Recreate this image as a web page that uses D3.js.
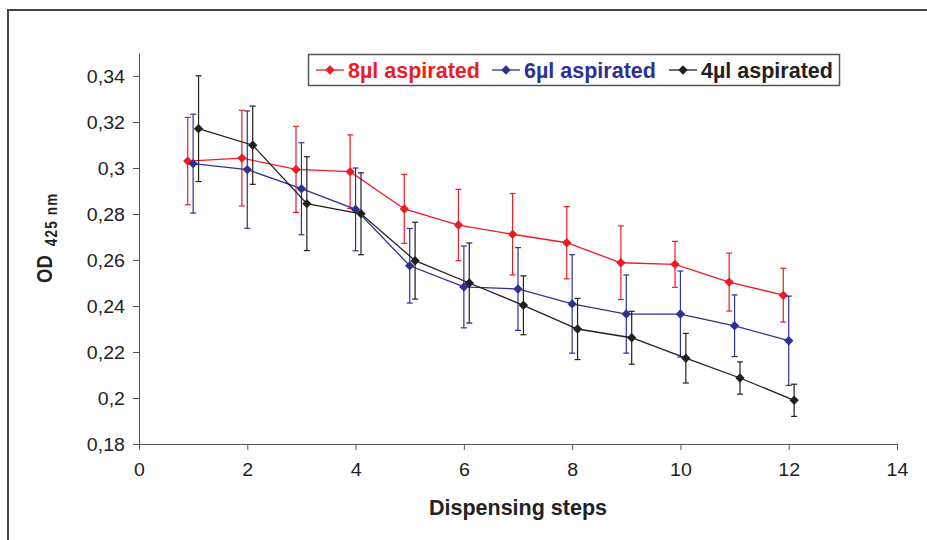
<!DOCTYPE html>
<html>
<head>
<meta charset="utf-8">
<script src="https://cdn.jsdelivr.net/npm/d3@7"></script>
<style>
  body { margin: 0; background: #fff; }
  svg { display: block; }
  text { font-family: "Liberation Sans", Arial, "Helvetica", sans-serif; }
</style>
</head>
<body>
<svg id="chart" width="927" height="540"></svg>
<script>
// Dispensing steps (x values shared by all series)
const steps = [1, 2, 3, 4, 5, 6, 7, 8, 9, 10, 11, 12];

// OD at 425 nm, mean and error, per aspirated volume
const od8  = [0.3030, 0.3043, 0.2994, 0.2984, 0.2822, 0.2752, 0.2712, 0.2675, 0.2588, 0.2581, 0.2504, 0.2447];
const err8 = [0.0190, 0.0208, 0.0187, 0.0160, 0.0150, 0.0155, 0.0177, 0.0157, 0.0160, 0.0100, 0.0126, 0.0117];

const od6  = [0.3019, 0.2993, 0.2910, 0.2820, 0.2575, 0.2483, 0.2474, 0.2409, 0.2365, 0.2365, 0.2314, 0.2249];
const err6 = [0.0215, 0.0255, 0.0200, 0.0180, 0.0162, 0.0178, 0.0180, 0.0214, 0.0170, 0.0187, 0.0134, 0.0194];

const od4  = [0.3171, 0.3099, 0.2845, 0.2801, 0.2597, 0.2500, 0.2403, 0.2300, 0.2262, 0.2173, 0.2087, 0.1990];
const err4 = [0.0230, 0.0170, 0.0204, 0.0178, 0.0167, 0.0174, 0.0128, 0.0133, 0.0115, 0.0108, 0.0070, 0.0070];

const seriesNames  = ["8µl aspirated", "6µl aspirated", "4µl aspirated"];
const seriesColors = ["#ed1c24", "#2e3192", "#231f20"];
const seriesShift  = [-0.1, 0, 0.1];   // small horizontal offset so error bars do not overlap

const xTicks = [0, 2, 4, 6, 8, 10, 12, 14];
const yTicks = [0.18, 0.20, 0.22, 0.24, 0.26, 0.28, 0.30, 0.32, 0.34];

const series = [
  { name: seriesNames[0], color: seriesColors[0], shift: seriesShift[0], values: od8, errors: err8 },
  { name: seriesNames[1], color: seriesColors[1], shift: seriesShift[1], values: od6, errors: err6 },
  { name: seriesNames[2], color: seriesColors[2], shift: seriesShift[2], values: od4, errors: err4 }
];

const svg = d3.select("#chart");
const axisColor = "#555";

// Outer frame
svg.append("rect")
  .attr("x", 8).attr("y", 10)
  .attr("width", 940).attr("height", 560)
  .attr("fill", "none").attr("stroke", "#444").attr("stroke-width", 2);

const x = d3.scaleLinear().domain([0, 14]).range([139, 897]);
const y = d3.scaleLinear().domain([0.18, 0.35]).range([444, 53]);

const locale = d3.formatLocale({ decimal: ",", thousands: ".", grouping: [3], currency: ["", ""] });
const yFmt = locale.format(".2~f");

// Y axis
const gy = svg.append("g")
  .attr("transform", `translate(${x(0)},0)`)
  .call(d3.axisLeft(y).tickValues(yTicks).tickFormat(yFmt).tickSize(6).tickSizeOuter(0));
gy.select(".domain").attr("stroke", axisColor);
gy.selectAll(".tick line").attr("stroke", axisColor);
gy.selectAll(".tick text")
  .attr("x", null).attr("dy", null)
  .attr("fill", "#222")
  .style("font-size", "17.5px")
  .attr("text-anchor", "end")
  .attr("transform", "translate(-14,6) scale(1.12,1)");

// X axis
const gx = svg.append("g")
  .attr("transform", `translate(0,${y(0.18)})`)
  .call(d3.axisBottom(x).tickValues(xTicks).tickFormat(d3.format("d")).tickSize(6).tickSizeOuter(0));
gx.select(".domain").attr("stroke", axisColor);
gx.selectAll(".tick line").attr("stroke", axisColor);
gx.selectAll(".tick text")
  .attr("y", null).attr("dy", null)
  .attr("fill", "#222")
  .style("font-size", "17.5px")
  .attr("transform", "translate(0,32) scale(1.12,1)");

// Axis titles
svg.append("text")
  .attr("x", 518).attr("y", 515)
  .attr("text-anchor", "middle")
  .attr("fill", "#222")
  .style("font-size", "21.5px").style("font-weight", "bold")
  .text("Dispensing steps");

const yTitle = svg.append("text")
  .attr("transform", "translate(52,283) rotate(-90) scale(1,1.2)")
  .attr("fill", "#222")
  .style("font-weight", "bold");
yTitle.append("tspan").style("font-size", "18.5px").text("OD");
yTitle.append("tspan").attr("dx", 9).attr("dy", 4)
  .style("font-size", "13.5px").style("letter-spacing", "1.2px").text("425 nm");

// Series: error bars, connecting line, diamond markers
const line = d3.line().x(d => x(d.step)).y(d => y(d.v));
const diamond = d3.symbol(d3.symbolSquare, 44);

series.forEach(s => {
  const pts = steps.map((st, i) => ({ step: st + s.shift, v: s.values[i], e: s.errors[i] }));
  const g = svg.append("g");

  const eb = g.selectAll(".eb").data(pts).enter().append("g");
  eb.append("line")
    .attr("x1", d => x(d.step)).attr("x2", d => x(d.step))
    .attr("y1", d => y(d.v - d.e)).attr("y2", d => y(d.v + d.e))
    .attr("stroke", s.color).attr("stroke-width", 1.2);
  [1, -1].forEach(sign => {
    eb.append("line")
      .attr("x1", d => x(d.step) - 3).attr("x2", d => x(d.step) + 3)
      .attr("y1", d => y(d.v + sign * d.e)).attr("y2", d => y(d.v + sign * d.e))
      .attr("stroke", s.color).attr("stroke-width", 1.2);
  });

  g.append("path").datum(pts)
    .attr("d", line)
    .attr("fill", "none").attr("stroke", s.color).attr("stroke-width", 1.3);

  g.selectAll(".mk").data(pts).enter().append("path")
    .attr("d", diamond)
    .attr("transform", d => `translate(${x(d.step)},${y(d.v)}) rotate(45)`)
    .attr("fill", s.color);
});

// Legend
const legend = svg.append("g");
legend.append("rect")
  .attr("x", 308.5).attr("y", 54.5).attr("width", 531).attr("height", 31)
  .attr("fill", "#fff").attr("stroke", "#555").attr("stroke-width", 1.5);
const legendX = [316, 492, 669];
series.forEach((s, i) => {
  const lx = legendX[i];
  legend.append("line")
    .attr("x1", lx).attr("x2", lx + 28).attr("y1", 70).attr("y2", 70)
    .attr("stroke", s.color).attr("stroke-width", 1.3);
  legend.append("path")
    .attr("d", diamond)
    .attr("transform", `translate(${lx + 14},70) rotate(45)`)
    .attr("fill", s.color);
  legend.append("text")
    .attr("x", lx + 32).attr("y", 78)
    .attr("fill", s.color)
    .style("font-size", "21.5px").style("font-weight", "bold")
    .text(s.name);
});
</script>
</body>
</html>
